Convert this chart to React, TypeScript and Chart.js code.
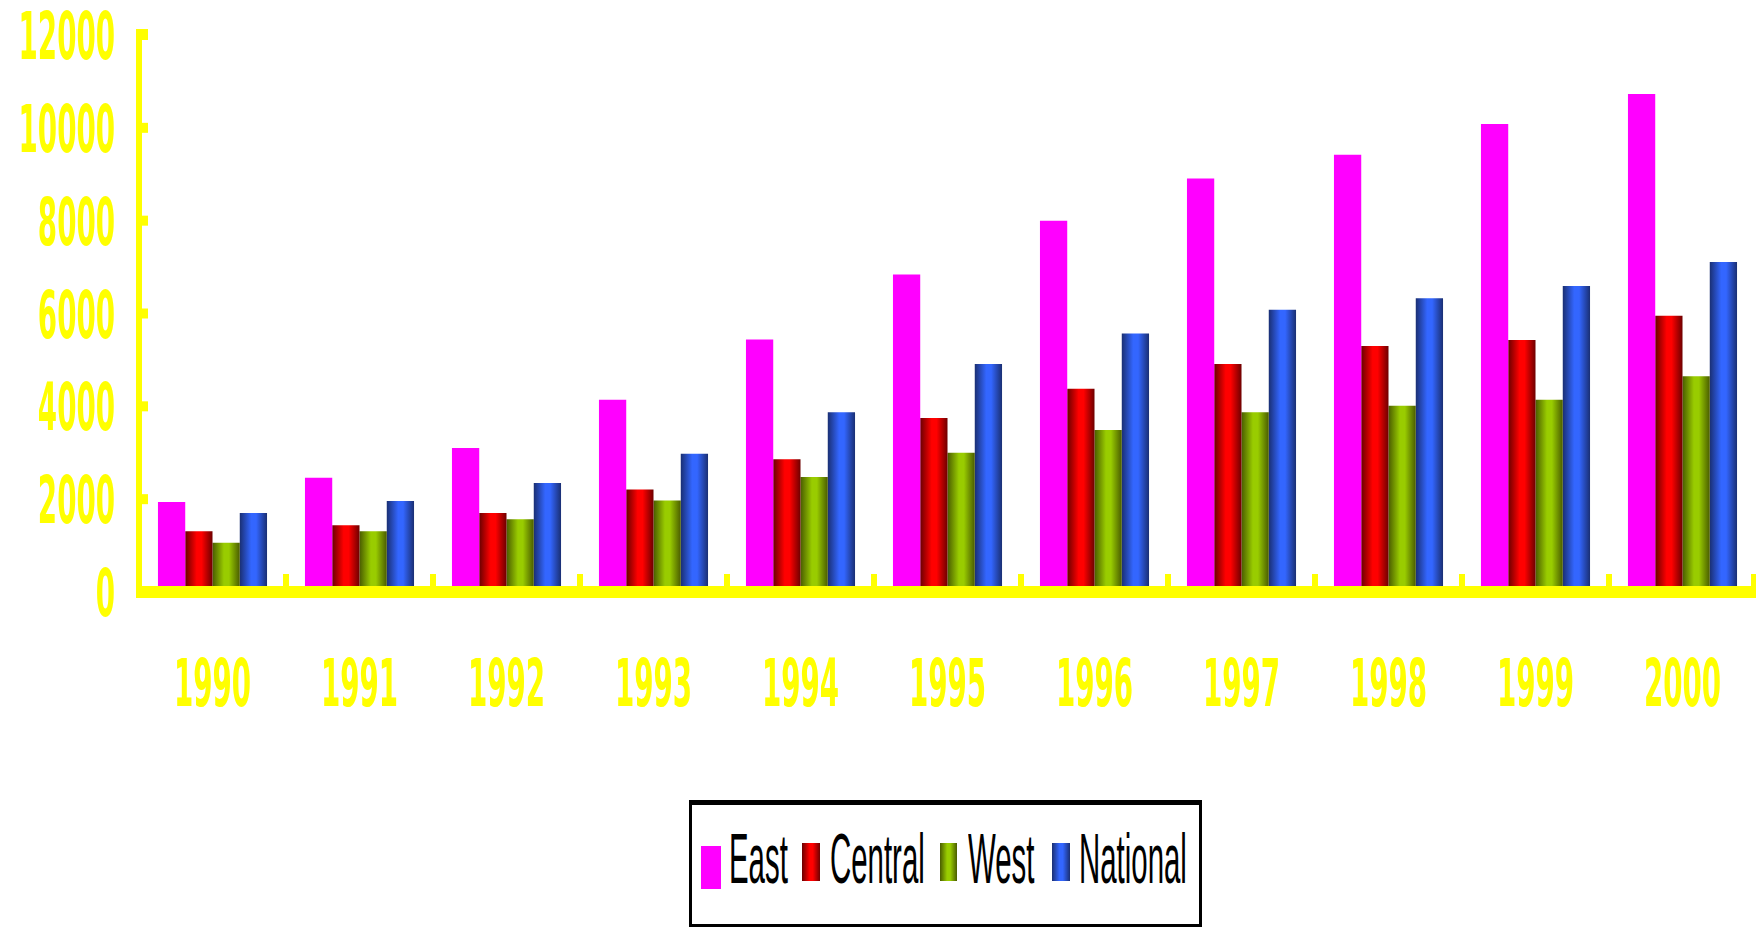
import React, { useEffect, useRef } from "react";
import { Chart, registerables } from "chart.js";

Chart.register(...registerables);

// ---- data ----
const YEARS = ["1990", "1991", "1992", "1993", "1994", "1995", "1996", "1997", "1998", "1999", "2000"];
const EAST = [1940, 2460, 3100, 4140, 5440, 6840, 8000, 8910, 9420, 10080, 10730];
const CENTRAL = [1310, 1440, 1700, 2210, 2860, 3750, 4380, 4910, 5300, 5430, 5950];
const WEST = [1060, 1310, 1570, 1970, 2480, 3000, 3490, 3870, 4010, 4140, 4650];
const NATIONAL = [1700, 1960, 2350, 2980, 3870, 4910, 5570, 6080, 6330, 6590, 7110];
const SERIES_NAMES = ["East", "Central", "West", "National"];
const Y_TICKS = [0, 2000, 4000, 6000, 8000, 10000, 12000];

// ---- styling ----
const YELLOW = "#FFFF00";
const CAT_PCT = 0.742;
const W = 1756;
const H = 927;
const LABEL_FONT = "bold 66px 'DejaVu Sans', Verdana, sans-serif";
const LABEL_SX = 0.42;

const RED_STOPS = ["#6a0000", "#ff0000", "#6e0000"];
const GREEN_STOPS = ["#4a5c00", "#99cc00", "#4a5c00"];
const BLUE_STOPS = ["#1a2f73", "#3366ff", "#1a2f73"];

function shade(stops: string[]) {
  return (c: any) => {
    const chart = c.chart;
    const xs = chart.scales && chart.scales.x;
    if (!xs || c.dataIndex == null || !chart.chartArea) return stops[1];
    const n = YEARS.length;
    const catW = (xs.right - xs.left) / n;
    const groupW = catW * CAT_PCT;
    const barW = groupW / SERIES_NAMES.length;
    const left = xs.getPixelForValue(c.dataIndex) - groupW / 2 + c.datasetIndex * barW;
    const g = chart.ctx.createLinearGradient(left, 0, left + barW, 0);
    g.addColorStop(0, stops[0]);
    g.addColorStop(0.42, stops[1]);
    g.addColorStop(0.6, stops[1]);
    g.addColorStop(1, stops[2]);
    return g;
  };
}

const axesPlugin = {
  id: "excelAxes",
  afterDatasetsDraw(chart: any) {
    const ctx = chart.ctx as CanvasRenderingContext2D;
    const xs = chart.scales.x;
    const ys = chart.scales.y;
    const y0 = ys.getPixelForValue(0);
    const yTop = ys.getPixelForValue(Y_TICKS[Y_TICKS.length - 1]);
    const ax = xs.left;
    ctx.save();
    ctx.fillStyle = YELLOW;
    // vertical axis
    ctx.fillRect(ax - 3, yTop - 6, 6, y0 + 6 - (yTop - 6));
    // y tick marks
    Y_TICKS.forEach((v, i) => {
      const py = ys.getPixelForValue(v);
      if (i === Y_TICKS.length - 1) ctx.fillRect(ax - 3, py - 6, 12, 11);
      else if (v !== 0) ctx.fillRect(ax + 3, py - 5, 6, 10);
    });
    // horizontal axis band
    ctx.fillRect(ax, y0 - 6, xs.right - ax, 12);
    // category boundary ticks
    for (let i = 1; i <= YEARS.length; i++) {
      let bx: number;
      if (i < YEARS.length) bx = (xs.getPixelForValue(i - 1) + xs.getPixelForValue(i)) / 2;
      else bx = xs.right - 2;
      ctx.fillRect(bx - 3, y0 - 18, 6, 12);
    }
    // labels
    ctx.font = LABEL_FONT;
    ctx.textBaseline = "alphabetic";
    Y_TICKS.forEach((v) => {
      const py = ys.getPixelForValue(v);
      ctx.save();
      ctx.translate(115, py + 24);
      ctx.scale(LABEL_SX, 1);
      ctx.textAlign = "right";
      ctx.fillText(String(v), 0, 0);
      ctx.restore();
    });
    YEARS.forEach((lab, i) => {
      const px = xs.getPixelForValue(i);
      ctx.save();
      ctx.translate(px, 681.5 + 24);
      ctx.scale(LABEL_SX, 1);
      ctx.textAlign = "center";
      ctx.fillText(lab, 0, 0);
      ctx.restore();
    });
    ctx.restore();
  },
};

const legendItems = [
  { name: SERIES_NAMES[0], bg: "#ff00ff", mx: 701, my: 846, mw: 20, mh: 43, tx: 729 },
  { name: SERIES_NAMES[1], bg: `linear-gradient(to right, ${RED_STOPS[0]}, ${RED_STOPS[1]} 42%, ${RED_STOPS[1]} 60%, ${RED_STOPS[2]})`, mx: 802, my: 843, mw: 18, mh: 38, tx: 830 },
  { name: SERIES_NAMES[2], bg: `linear-gradient(to right, ${GREEN_STOPS[0]}, ${GREEN_STOPS[1]} 42%, ${GREEN_STOPS[1]} 60%, ${GREEN_STOPS[2]})`, mx: 940, my: 843, mw: 17, mh: 38, tx: 968 },
  { name: SERIES_NAMES[3], bg: `linear-gradient(to right, ${BLUE_STOPS[0]}, ${BLUE_STOPS[1]} 42%, ${BLUE_STOPS[1]} 60%, ${BLUE_STOPS[2]})`, mx: 1052, my: 843, mw: 18, mh: 38, tx: 1079 },
];

export default function App() {
  const canvasRef = useRef<HTMLCanvasElement | null>(null);

  useEffect(() => {
    document.body.style.margin = "0";
    const canvas = canvasRef.current;
    if (!canvas) return;
    const chart = new Chart(canvas, {
      type: "bar",
      data: {
        labels: YEARS,
        datasets: [
          { label: SERIES_NAMES[0], data: EAST, backgroundColor: "#ff00ff" },
          { label: SERIES_NAMES[1], data: CENTRAL, backgroundColor: shade(RED_STOPS) as any },
          { label: SERIES_NAMES[2], data: WEST, backgroundColor: shade(GREEN_STOPS) as any },
          { label: SERIES_NAMES[3], data: NATIONAL, backgroundColor: shade(BLUE_STOPS) as any },
        ],
      },
      options: {
        responsive: false,
        animation: false,
        devicePixelRatio: 1,
        layout: { padding: { left: 139, top: 35, right: 0, bottom: H - 592 } },
        datasets: { bar: { categoryPercentage: CAT_PCT, barPercentage: 1, borderWidth: 0 } },
        plugins: { legend: { display: false }, tooltip: { enabled: false } },
        scales: {
          x: { display: false, offset: true },
          y: { display: false, min: 0, max: 12000 },
        },
      },
      plugins: [axesPlugin],
    });
    return () => chart.destroy();
  }, []);

  return (
    <div style={{ position: "fixed", left: 0, top: 0, width: W, height: H, overflow: "hidden", background: "#fff" }}>
      <canvas ref={canvasRef} width={W} height={H} style={{ display: "block", position: "absolute", left: 0, top: 0 }} />
      <div
        style={{
          position: "absolute",
          left: 689,
          top: 800,
          width: 513,
          height: 127,
          boxSizing: "border-box",
          borderTop: "5px solid #000",
          borderLeft: "3px solid #000",
          borderRight: "3px solid #000",
          borderBottom: "3px solid #000",
          background: "#fff",
        }}
      />
      {legendItems.map((it) => (
        <React.Fragment key={it.name}>
          <div style={{ position: "absolute", left: it.mx, top: it.my, width: it.mw, height: it.mh, background: it.bg }} />
          <div
            style={{
              position: "absolute",
              left: it.tx,
              top: 823.75,
              font: "70px 'Liberation Sans', Arial, sans-serif",
              lineHeight: 1,
              color: "#000",
              whiteSpace: "nowrap",
              transform: `scaleX(${LABEL_SX})`,
              transformOrigin: "left top",
            }}
          >
            {it.name}
          </div>
        </React.Fragment>
      ))}
    </div>
  );
}
